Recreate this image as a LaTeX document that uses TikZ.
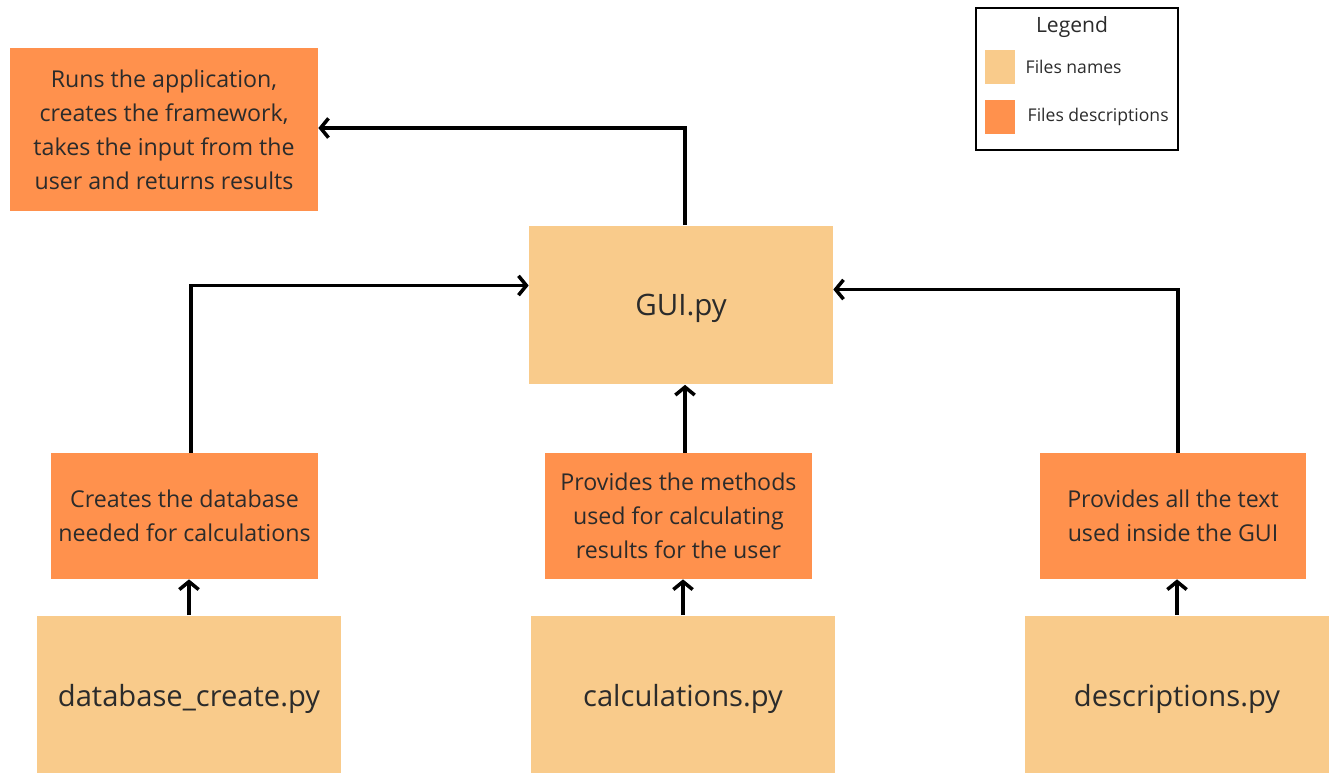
\documentclass[tikz,border=0pt]{standalone}
\usepackage{fontspec}
\setmainfont{Open Sans}
\usetikzlibrary{positioning,arrows.meta}
\definecolor{filename}{HTML}{F9CB8B}
\definecolor{filedesc}{HTML}{FF914D}
\definecolor{inktext}{HTML}{2B2B2B}

\begin{document}
\begin{tikzpicture}[x=0.02cm, y=-0.02cm, text=inktext,
  namebox/.style={fill=filename, minimum width=6.08cm, minimum height=3.18cm, inner sep=0pt,
    text depth=0pt, font=\fontsize{16.6}{20}\selectfont},
  descbox/.style={fill=filedesc, minimum width=5.34cm, minimum height=2.52cm, inner sep=0pt,
    align=center, font=\fontsize{13.2}{19.3}\selectfont},
  link/.style={line width=2pt, -{Straight Barb[length=4.5pt, width=11pt]}}]
  \draw[use as bounding box, draw=none] (0, 0) rectangle (1335, 772);
  % Main program
  \node [descbox, minimum width=6.16cm, minimum height=3.26cm] (runs desc) at (164, 129.5) {Runs the application,\\
    creates the framework,\\ takes the input from the\\ user and returns results};
  \node [namebox] (gui) at (681, 305) {\fontsize{16.8}{20}\selectfont GUI.py};
  % Descriptions
  \node [descbox] (db desc) at (184.5, 516) {Creates the database\\ needed for calculations};
  \node [descbox] (calc desc) at (678.5, 516) {Provides the methods\\ used for calculating\\ results for the user};
  \node [descbox] (text desc) at (1173, 516) {Provides all the text\\ used inside the GUI};
  % File names
  \node [namebox] (db file) at (189, 695) {database\_create.py};
  \node [namebox] (calc file) at (683, 695) {calculations.py};
  \node [namebox] (text file) at (1177, 695) {descriptions.py};
  % Connectors
  \draw [link] ([xshift=0.08cm]gui.north) |- ([yshift=0.03cm]runs desc.east);
  \draw [link] ([xshift=0.13cm]db desc.north) |- ([yshift=0.39cm]gui.west);
  \draw [link] ([xshift=0.1cm]text desc.north) |- ([yshift=0.31cm]gui.east);
  \draw [link] ([xshift=0.13cm]calc desc.north) -- ([xshift=0.13cm]calc desc.north |- gui.south);
  \draw [link] (db file.north) -- (db file.north |- db desc.south);
  \draw [link] (calc file.north) -- (calc file.north |- calc desc.south);
  \draw [link] (text file.north) -- (text file.north |- text desc.south);
  % Legend
  \node [draw, line width=1.4pt, minimum width=4.04cm, minimum height=2.84cm] (legend) at (1077, 79) {};
  \node [font=\fontsize{12}{14}\selectfont] (legend title) at (1072, 27) {Legend};
  \node [fill=filename, minimum width=0.6cm, minimum height=0.68cm, inner sep=0pt] (name swatch) at (1000, 67) {};
  \node [fill=filedesc, minimum width=0.6cm, minimum height=0.68cm, inner sep=0pt] (desc swatch) at (1000, 117) {};
  \node [right = 0.2cm of name swatch, font=\fontsize{10}{12}\selectfont, inner sep=0pt] (name key) {Files names};
  \node [right = 0.24cm of desc swatch, font=\fontsize{10}{12}\selectfont, inner sep=0pt] (desc key) {Files descriptions};
\end{tikzpicture}
\end{document}
